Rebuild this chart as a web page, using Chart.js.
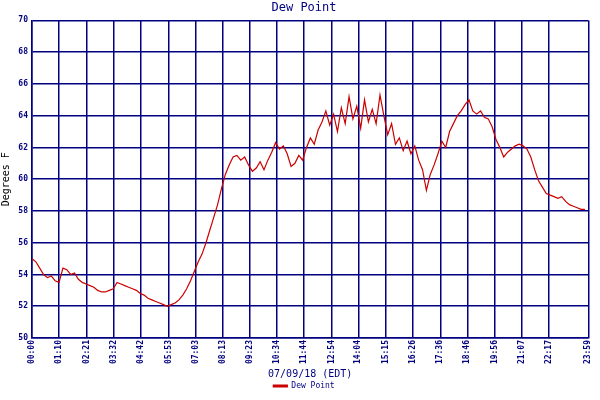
<!DOCTYPE html>
<html><head><meta charset="utf-8">
<script src="https://cdn.jsdelivr.net/npm/chart.js@4"></script>
<style>html,body{margin:0;padding:0;background:#fff}#w{width:600px;height:400px}</style>
</head><body><div id="w"><canvas id="c"></canvas></div>
<script>
const dewValues=[55.0,54.8,54.4,54.0,53.8,53.9,
53.6,53.5,54.4,54.3,54.0,
54.1,53.7,53.5,53.4,53.3,
53.2,53.0,52.9,52.9,53.0,
53.1,53.5,53.4,53.3,53.2,
53.1,53.0,52.8,52.7,52.5,
52.4,52.3,52.2,52.1,52.0,
52.1,52.2,52.4,52.7,53.1,
53.6,54.2,54.8,55.3,56.0,
56.8,57.6,58.4,59.4,60.3,
60.9,61.4,61.5,61.2,61.4,
60.9,60.5,60.7,61.1,60.6,
61.2,61.7,62.3,61.9,62.1,
61.6,60.8,61.0,61.5,61.2,
62.0,62.6,62.2,63.1,63.6,
64.3,63.4,64.1,63.0,64.5,
63.5,65.2,63.8,64.6,63.2,
65.0,63.6,64.4,63.5,65.3,
64.0,62.8,63.5,62.2,62.6,
61.8,62.4,61.6,62.1,61.2,
60.6,59.3,60.3,60.9,61.6,
62.4,62.0,63.0,63.5,64.0,
64.3,64.7,65.0,64.3,64.1,
64.3,63.9,63.8,63.3,62.5,
62.0,61.4,61.7,61.9,62.1,
62.2,62.1,61.9,61.4,60.6,
59.9,59.5,59.1,59.0,58.9,
58.8,58.9,58.6,58.4,58.3,
58.2,58.1,58.1];
const dewMinutes=dewValues.map((v,i)=>Math.min(i*10,1439));
const tickMinutes=[0,70,141,212,282,353,423,493,563,634,704,775,844,915,986,1056,1126,1196,1267,1337,1439];
const tickLabels=["00:00","01:10","02:21","03:32","04:42","05:53","07:03","08:13","09:23","10:34","11:44","12:54","14:04","15:15","16:26","17:36","18:46","19:56","21:07","22:17","23:59"];
const yTicks=[50,52,54,56,58,60,62,64,66,68,70];
const navy='#000080', font='DejaVu Sans Mono';
new Chart(document.getElementById('c'),{
 type:'line',
 data:{datasets:[{label:'Dew Point',data:dewMinutes.map((m,i)=>({x:m,y:dewValues[i]})),
   borderColor:'#cc0000',backgroundColor:'#cc0000',borderWidth:1.2,pointRadius:0,tension:0}]},
 options:{responsive:true,maintainAspectRatio:false,animation:false,
  layout:{padding:{left:0,right:-8,top:0,bottom:0}},
  plugins:{
   title:{display:true,text:'Dew Point',color:navy,font:{family:font,size:12,weight:'normal'},padding:{top:1,bottom:5}},
   legend:{position:'bottom',labels:{color:navy,font:{family:font,size:8},boxWidth:14,boxHeight:2,padding:2}},
   tooltip:{enabled:false}},
  scales:{
   x:{type:'linear',min:0,max:1439,
    afterBuildTicks:s=>{s.ticks=tickMinutes.map(v=>({value:v}));},
    afterFit:s=>{s.height=42;},
    ticks:{autoSkip:false,maxRotation:90,minRotation:90,color:navy,font:{family:font,size:8,weight:'bold'},padding:2,
      callback:(v,i)=>tickLabels[i]},
    grid:{color:navy,lineWidth:1.5,drawTicks:false},border:{color:navy,width:1.5},
    title:{display:true,text:'07/09/18 (EDT)',color:navy,font:{family:font,size:10},padding:{top:0,bottom:0}}},
   y:{min:50,max:70,
    afterBuildTicks:s=>{s.ticks=yTicks.map(v=>({value:v}));},
    afterFit:s=>{s.width=32;},
    ticks:{color:navy,font:{family:font,size:8,weight:'bold'},padding:4},
    grid:{color:navy,lineWidth:1.5,drawTicks:false},border:{color:navy,width:1.5},
    title:{display:true,text:'Degrees F',color:'#000',font:{family:font,size:10},padding:{top:0,bottom:0}}}
  }}
});
</script></body></html>
